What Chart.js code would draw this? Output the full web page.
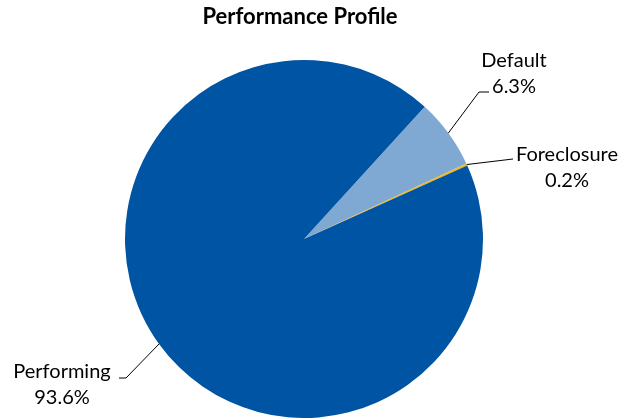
<!DOCTYPE html>
<html>
<head>
<meta charset="utf-8">
<script src="https://cdn.jsdelivr.net/npm/chart.js@4.4.1/dist/chart.umd.min.js"></script>
<style>
  html, body { margin: 0; padding: 0; background: #fff; }
  #wrap { width: 624px; height: 419px; position: relative; }
</style>
</head>
<body>
<div id="wrap"><canvas id="pieChart" width="624" height="419"></canvas></div>
<script>
// Datos del gráfico
const labels = ['Default', 'Foreclosure', 'Performing'];
const values = [6.3, 0.2, 93.6];
const colors = ['#7fa9d3', '#f2b81c', '#0054a4'];
const chartTitle = 'Performance Profile';

// Posición de cada etiqueta: codo de la línea, fin de la línea y centro del texto
const labelLayout = [
    { elbow: [479, 92], end: [489, 92], text: [514, 61] },
    { elbow: null, end: [513, 159], text: [567, 155] },
    { elbow: [126, 378], end: [119, 378], text: [62, 372] }
];

const FONT = 'Lato, "Open Sans", sans-serif';

const labelPlugin = {
    id: 'pieLabels',
    afterDraw(chart) {
        const ctx = chart.ctx;
        const meta = chart.getDatasetMeta(0);
        ctx.save();

        // Título
        ctx.fillStyle = '#000';
        ctx.font = 'bold 22px ' + FONT;
        ctx.textAlign = 'center';
        ctx.textBaseline = 'middle';
        ctx.fillText(chartTitle, 300, 17);

        meta.data.forEach((arc, i) => {
            const p = arc.getProps(['x', 'y', 'startAngle', 'endAngle', 'outerRadius'], true);
            const mid = (p.startAngle + p.endAngle) / 2;
            const sx = p.x + Math.cos(mid) * p.outerRadius;
            const sy = p.y + Math.sin(mid) * p.outerRadius;
            const lay = labelLayout[i];

            ctx.strokeStyle = '#000';
            ctx.lineWidth = 1;
            ctx.beginPath();
            ctx.moveTo(sx, sy);
            if (lay.elbow) ctx.lineTo(lay.elbow[0], lay.elbow[1]);
            ctx.lineTo(lay.end[0], lay.end[1]);
            ctx.stroke();

            ctx.fillStyle = '#000';
            ctx.font = '20px ' + FONT;
            ctx.textAlign = 'center';
            ctx.fillText(labels[i], lay.text[0], lay.text[1]);
            ctx.fillText(values[i].toFixed(1) + '%', lay.text[0], lay.text[1] + 26);
        });
        ctx.restore();
    }
};

new Chart(document.getElementById('pieChart'), {
    type: 'pie',
    data: {
        labels: labels,
        datasets: [{
            data: values,
            backgroundColor: colors,
            borderWidth: 0
        }]
    },
    options: {
        responsive: false,
        animation: false,
        rotation: 42.4,
        layout: { padding: { left: 125, right: 141, top: 60, bottom: 1 } },
        plugins: {
            legend: { display: false },
            tooltip: { enabled: false },
            title: { display: false }
        }
    },
    plugins: [labelPlugin]
});
</script>
</body>
</html>
